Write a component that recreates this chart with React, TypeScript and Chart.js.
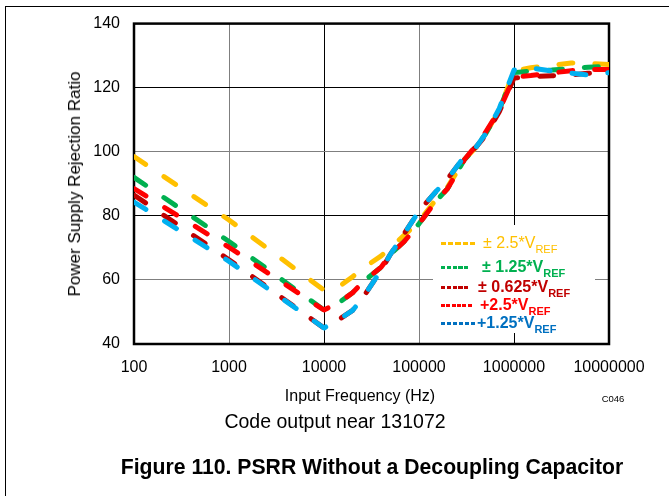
import React, { useEffect, useRef } from 'react';
import { Chart, registerables } from 'chart.js';

Chart.register(...registerables);

// ---------- data ----------
const frequencies = [
  100, 1000, 10000, 15000, 20000, 25000, 30000, 40000, 50000, 70000, 100000,
  150000, 200000, 300000, 400000, 500000, 700000, 1000000, 1500000, 2500000,
  4000000, 6000000, 10000000,
];

const psrrPm2p5 = [
  98.5, 78.7, 56.8, 58.3, 61, 63.3, 65, 67.5, 70, 74, 78.2, 85, 89, 97.5, 101.5,
  105.5, 113, 125.2, 126.2, 127, 127.7, 127.6, 127.2,
];
const psrrPm1p25 = [
  92, 72, 50.6, 53.3, 56, 59, 61, 64, 68, 72, 77.5, 84.5, 88.5, 97.5, 101.5,
  105.5, 113, 124.7, 125.2, 125.5, 126, 126.4, 126.7,
];
const psrrPm0p625 = [
  86.5, 66.3, 45, 48, 50.5, 54, 57.5, 63, 68, 74.5, 81.5, 87.5, 91.5, 98.5,
  101.5, 105, 112.5, 123, 123.5, 123.7, 124, 124.5, 125,
];
const psrrP2p5 = [
  88.5, 70.2, 50.6, 53.3, 56, 59, 61, 64, 68, 72, 77.5, 84.5, 88.5, 97.5, 102,
  106, 113, 123.3, 123.8, 124.6, 125.3, 125.7, 125.7,
];
const psrrP1p25 = [
  84.3, 65.8, 45, 48, 50.5, 54, 57.5, 63, 68, 74.5, 81.5, 87.5, 91.5, 98.5,
  101.5, 105.5, 113.5, 125.5, 126.2, 125.2, 124.5, 124, 124.7,
];

const seriesValues = [psrrPm2p5, psrrPm1p25, psrrPm0p625, psrrP2p5, psrrP1p25];
const seriesLabels = ['± 2.5*V', '± 1.25*V', '± 0.625*V', '+2.5*V', '+1.25*V'];
const seriesSubscript = 'REF';

const xTickValues = [100, 1000, 10000, 100000, 1000000, 10000000];
const xTickLabels = ['100', '1000', '10000', '100000', '1000000', '10000000'];
const yTickValues = [40, 60, 80, 100, 120, 140];
const yTickLabels = ['40', '60', '80', '100', '120', '140'];

const xTitle = 'Input Frequency (Hz)';
const yTitle = 'Power Supply Rejection Ratio';
const codeNote = 'C046';
const caption = 'Code output near 131072';
const figureTitle = 'Figure 110. PSRR Without a Decoupling Capacitor';

// ---------- styles ----------
const FONT = "'Liberation Sans', Arial, Helvetica, sans-serif";
const lineColors = ['#FFC000', '#00B050', '#C00000', '#FF0000', '#00B0F0'];
const legendColors = ['#FFC000', '#00B050', '#C00000', '#FF0000', '#0070C0'];
const legendWeights = [400, 700, 700, 700, 700];
const legendLayout = [
  { top: 235, dashW: 36, dashN: 5, textX: 483 },
  { top: 259, dashW: 29, dashN: 5, textX: 482 },
  { top: 279, dashW: 29, dashN: 5, textX: 478 },
  { top: 297, dashW: 32, dashN: 6, textX: 480 },
  { top: 315, dashW: 36, dashN: 6, textX: 477 },
];

const AREA = { left: 134, top: 22, right: 609, bottom: 344 };
const W = 669;
const H = 496;

const framePlugin = {
  id: 'plotFrame',
  beforeDatasetsDraw(chart: any) {
    const { ctx, chartArea: a } = chart;
    ctx.save();
    ctx.strokeStyle = '#000';
    ctx.lineWidth = 2.5;
    ctx.strokeRect(a.left, a.top, a.right - a.left, a.bottom - a.top);
    ctx.restore();
  },
};

export default function App() {
  const canvasRef = useRef<HTMLCanvasElement | null>(null);

  useEffect(() => {
    const canvas = canvasRef.current;
    if (!canvas) return;
    const chart = new Chart(canvas, {
      type: 'line',
      data: {
        datasets: seriesValues.map((vals, i) => ({
          label: seriesLabels[i] + seriesSubscript,
          data: frequencies.map((f, j) => ({ x: f, y: vals[j] })),
          borderColor: lineColors[i],
          backgroundColor: lineColors[i],
          borderWidth: 5,
          borderDash: [14, 22],
          borderCapStyle: 'round',
          borderJoinStyle: 'round',
          pointRadius: 0,
          pointHoverRadius: 0,
          tension: 0,
          fill: false,
          order: seriesValues.length - i,
        })),
      },
      options: {
        responsive: false,
        maintainAspectRatio: false,
        animation: false,
        devicePixelRatio: 1,
        layout: {
          padding: { left: 0, top: AREA.top, right: W - AREA.right, bottom: 0 },
        },
        plugins: {
          legend: { display: false },
          tooltip: { enabled: false },
        },
        scales: {
          x: {
            type: 'logarithmic',
            min: xTickValues[0],
            max: xTickValues[xTickValues.length - 1],
            afterBuildTicks: (s: any) => {
              s.ticks = xTickValues.map((v) => ({ value: v }));
            },
            afterFit: (s: any) => {
              s.height = H - AREA.bottom;
            },
            ticks: {
              autoSkip: false,
              maxRotation: 0,
              padding: 14,
              color: '#000',
              font: { family: FONT, size: 16 },
              callback: (v: any) => {
                const k = xTickValues.indexOf(Number(v));
                return k >= 0 ? xTickLabels[k] : '';
              },
            },
            grid: {
              drawTicks: false,
              lineWidth: 1,
              color: (c: any) => {
                const v = c.tick ? c.tick.value : 0;
                if (v === xTickValues[0] || v === xTickValues[xTickValues.length - 1]) return 'rgba(0,0,0,0)';
                return v === 10000 || v === 1000000 ? '#000000' : '#7f7f7f';
              },
            },
            border: { display: false },
          },
          y: {
            type: 'linear',
            min: yTickValues[0],
            max: yTickValues[yTickValues.length - 1],
            afterBuildTicks: (s: any) => {
              s.ticks = yTickValues.map((v) => ({ value: v }));
            },
            afterFit: (s: any) => {
              s.width = AREA.left;
            },
            ticks: {
              padding: 14,
              color: '#000',
              font: { family: FONT, size: 16 },
              callback: (v: any) => {
                const k = yTickValues.indexOf(Number(v));
                return k >= 0 ? yTickLabels[k] : '';
              },
            },
            grid: {
              drawTicks: false,
              lineWidth: 1,
              color: (c: any) => {
                const v = c.tick ? c.tick.value : 0;
                if (v === yTickValues[0] || v === yTickValues[yTickValues.length - 1]) return 'rgba(0,0,0,0)';
                return v === 80 || v === 120 ? '#000000' : '#7f7f7f';
              },
            },
            border: { display: false },
          },
        },
      },
      plugins: [framePlugin],
    } as any);
    return () => chart.destroy();
  }, []);

  const abs = (extra: React.CSSProperties): React.CSSProperties => ({
    position: 'absolute',
    whiteSpace: 'nowrap',
    fontFamily: FONT,
    color: '#000',
    ...extra,
  });

  return (
    <div
      style={{
        position: 'fixed',
        left: 0,
        top: 0,
        width: W,
        height: H,
        background: '#fff',
        overflow: 'hidden',
        fontFamily: FONT,
      }}
    >
      <div
        style={{
          position: 'absolute',
          left: 5,
          top: 6,
          width: 720,
          height: 560,
          borderLeft: '1.5px solid #000',
          borderTop: '1.5px solid #000',
        }}
      />
      <canvas
        ref={canvasRef}
        width={W}
        height={H}
        style={{ position: 'absolute', left: 0, top: 0, width: W, height: H }}
      />
      <div
        style={abs({
          left: 75,
          top: 184,
          fontSize: 17,
          transform: 'translate(-50%, -50%) rotate(-90deg)',
        })}
      >
        {yTitle}
      </div>
      <div style={abs({ left: 360, top: 396, fontSize: 16, transform: 'translate(-50%, -50%)' })}>
        {xTitle}
      </div>
      <div style={abs({ left: 613, top: 398, fontSize: 9.5, transform: 'translate(-50%, -50%)' })}>
        {codeNote}
      </div>
      <div style={abs({ left: 335, top: 421, fontSize: 19.5, transform: 'translate(-50%, -50%)' })}>
        {caption}
      </div>
      <div
        style={abs({
          left: 372,
          top: 467,
          fontSize: 21.2,
          fontWeight: 700,
          transform: 'translate(-50%, -50%)',
        })}
      >
        {figureTitle}
      </div>
      <div
        style={{
          position: 'absolute',
          left: 433,
          top: 225,
          width: 162,
          height: 108,
          background: '#fff',
        }}
      />
      {seriesLabels.map((lab, i) => {
        const L = legendLayout[i];
        const pitch = L.dashW / L.dashN;
        const dash = pitch * 0.72;
        return (
          <React.Fragment key={lab}>
            <div
              style={{
                position: 'absolute',
                left: 441,
                top: L.top + 7,
                width: L.dashW,
                height: 3,
                background: `repeating-linear-gradient(90deg, ${legendColors[i]} 0px, ${legendColors[i]} ${dash}px, rgba(0,0,0,0) ${dash}px, rgba(0,0,0,0) ${pitch}px)`,
              }}
            />
            <div
              style={abs({
                left: L.textX,
                top: L.top,
                fontSize: 16,
                lineHeight: '16px',
                fontWeight: legendWeights[i],
                color: legendColors[i],
              })}
            >
              {lab}
              <span style={{ fontSize: 11, position: 'relative', top: 5 }}>{seriesSubscript}</span>
            </div>
          </React.Fragment>
        );
      })}
    </div>
  );
}
